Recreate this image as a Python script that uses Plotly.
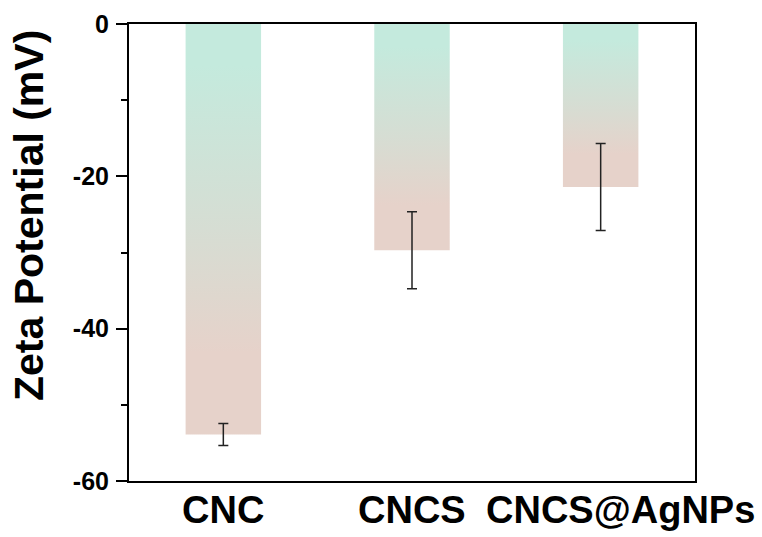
import plotly.graph_objects as go

categories = ["CNC", "CNCS", "CNCS@AgNPs"]
zeta_mv = [-53.9, -29.7, -21.4]
zeta_err = [1.45, 5.05, 5.7]
y_tick_vals = [0, -20, -40, -60]
y_tick_text = ["0", "-20", "-40", "-60"]

TOP_COLOR = "rgb(196,234,221)"
MID_COLOR = "rgb(214,221,211)"
BOTTOM_COLOR = "rgb(230,210,202)"
BAR_HALF = 0.2
FONT = "Arial, 'Liberation Sans', sans-serif"
LABEL_SHIFT = [0, 0, 20]

W, H = 762, 537
L, R, T, B = 129, 67, 24, 56

fig = go.Figure()
positions = list(range(1, len(categories) + 1))

for pos, val in zip(positions, zeta_mv):
    xs = [pos - BAR_HALF, pos + BAR_HALF, pos + BAR_HALF, pos - BAR_HALF, pos - BAR_HALF]
    ys = [0, 0, val, val, 0]
    fig.add_trace(go.Scatter(
        x=xs, y=ys, mode="lines", fill="toself",
        line=dict(width=0, color="rgba(0,0,0,0)"),
        fillgradient=dict(type="vertical",
                          colorscale=[[0, BOTTOM_COLOR], [0.2, BOTTOM_COLOR],
                                      [0.5, MID_COLOR], [0.9, TOP_COLOR], [1, TOP_COLOR]]),
        hoverinfo="skip", showlegend=False,
    ))

fig.add_trace(go.Scatter(
    x=positions, y=zeta_mv, mode="markers",
    marker=dict(size=1, color="rgba(0,0,0,0)"),
    error_y=dict(type="data", array=zeta_err, visible=True,
                 color="#222222", thickness=1.5, width=5),
    showlegend=False,
))

annotations = [dict(
    text="Zeta Potential (mV)", textangle=-90,
    xref="paper", yref="paper",
    x=(29 - L) / (W - L - R), y=(H - B - 216) / (H - B - T),
    xanchor="center", yanchor="middle", showarrow=False,
    font=dict(family=FONT, size=41, color="black", weight="bold"),
)]
for pos, cat, sh in zip(positions, categories, LABEL_SHIFT):
    annotations.append(dict(
        text=cat, xref="x", yref="paper", x=pos, y=0,
        xanchor="center", yanchor="top", xshift=sh, yshift=-6,
        showarrow=False,
        font=dict(family=FONT, size=38, color="black", weight="bold"),
    ))

fig.update_layout(
    width=W, height=H,
    margin=dict(l=L, r=R, t=T, b=B, autoexpand=False),
    paper_bgcolor="white", plot_bgcolor="white",
    font=dict(family=FONT, color="black"),
    xaxis=dict(
        range=[0.5, 3.5], tickmode="array", tickvals=positions, ticktext=categories,
        showticklabels=False,
        showgrid=False, zeroline=False, showline=True, linecolor="black", linewidth=2,
        mirror=True, ticks="",
        automargin=False,
    ),
    yaxis=dict(
        range=[-60, 0], tickmode="array", tickvals=y_tick_vals, ticktext=y_tick_text,
        showgrid=False, zeroline=False, showline=True, linecolor="black", linewidth=2,
        mirror=True, ticks="outside", ticklen=11, tickwidth=2, tickcolor="black",
        minor=dict(dtick=10, ticks="outside", ticklen=6, tickwidth=2, tickcolor="black"),
        tickfont=dict(family=FONT, size=25, color="black", weight="bold"),
        ticklabelstandoff=2,
        automargin=False,
    ),
    annotations=annotations,
)

fig.write_html("out.html")
